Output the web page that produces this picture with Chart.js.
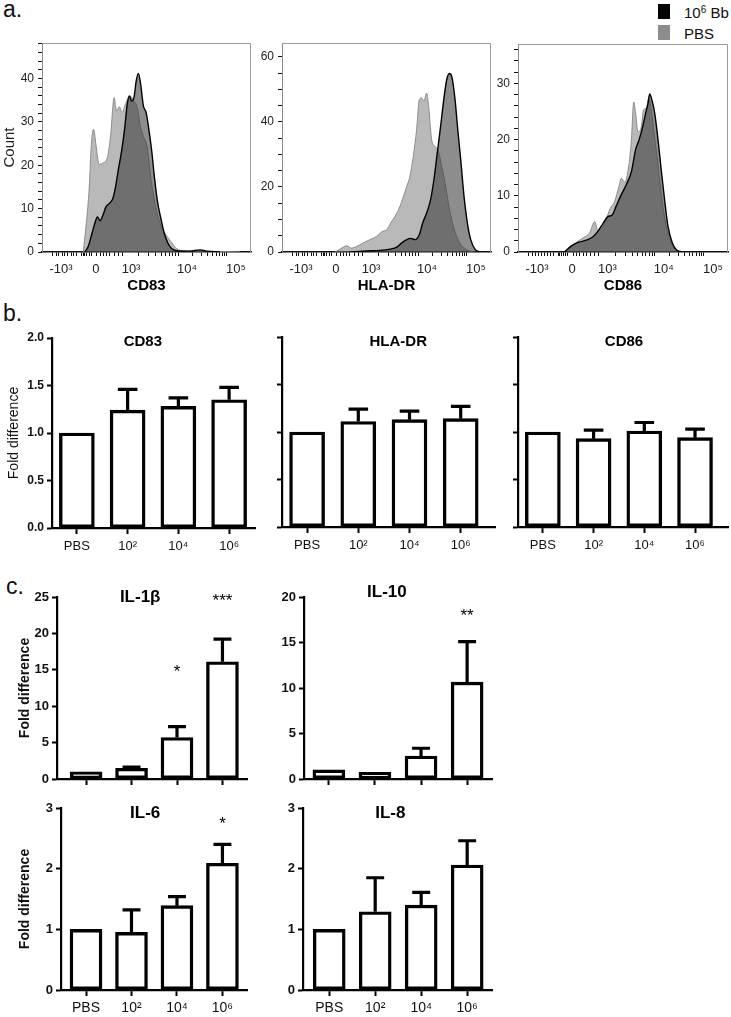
<!DOCTYPE html>
<html>
<head>
<meta charset="utf-8">
<script src="https://cdn.jsdelivr.net/npm/chart.js@4.4.1/dist/chart.umd.min.js"></script>
<style>
  body { margin: 0; background: #fff; width: 731px; height: 1017px; position: relative; overflow: hidden;
         font-family: "Liberation Sans", Arial, Helvetica, sans-serif; color: #111; }
  .panel { position: absolute; }
  .letter { position: absolute; font-size: 23px; line-height: 23px; }
  .sw { position: absolute; left: 658px; width: 12px; height: 15px; }
  .lg { position: absolute; left: 684px; font-size: 15px; line-height: 17px; }
  .lg sup { font-size: 10px; vertical-align: 5px; line-height: 0; }
</style>
</head>
<body>
<div class="letter" style="left:3px;top:-2px">a.</div>
<div class="letter" style="left:3px;top:302px">b.</div>
<div class="letter" style="left:6px;top:575px">c.</div>

<div class="sw" style="top:4px;background:#000"></div>
<div class="lg" style="top:4px">10<sup>6</sup> Bb</div>
<div class="sw" style="top:25px;background:#8c8c8c"></div>
<div class="lg" style="top:25px">PBS</div>

<script>
// ---- flow cytometry histograms: [channel (0-1000 display scale), count] ----
const cd83Pbs = [[198,0],[226,14.8],[236,24.8],[247,28.3],[258,24.8],[273,20.2],[293,20.6],[313,21.8],[329,27.2],
  [345,35.6],[357,32.5],[370,33.5],[383,32.2],[402,34.5],[421,36],[440,34.8],[456,33.3],[472,28.7],[488,26.4],
  [504,24.1],[520,17.2],[536,12.5],[552,8.7],[573,5.6],[597,3.7],[620,2.2],[644,0.8],[676,0.3],[756,0.2],[852,0.1],[947,0]];
const cd83Bb = [[206,0],[222,1.4],[238,4.1],[254,6.8],[265,8.1],[278,7.2],[293,8.7],[306,10.4],[322,11.2],[338,12.2],
  [351,14.8],[367,19.5],[381,23.3],[396,28.7],[408,34.1],[418,36],[429,34.8],[440,35.6],[451,39.5],[461,41.2],
  [472,38.7],[485,33.7],[498,32.2],[510,28.7],[525,23.3],[538,17.2],[552,11.8],[568,7.9],[584,4.5],[601,2.2],
  [620,0.8],[644,0.3],[708,0.2],[756,0.5],[788,0.2],[852,0]];
const hlaPbs = [[254,0],[278,0.9],[309,1.9],[333,1.2],[357,1.7],[389,2.8],[421,3.8],[453,4.8],[477,6.2],[501,6.9],
  [520,8.9],[541,11],[561,13.5],[581,17.1],[597,20.2],[612,23.3],[628,29.4],[644,37.6],[657,46.9],[668,47.4],
  [679,46.4],[692,48.9],[703,43.8],[716,34.6],[732,32.5],[748,31],[764,26.4],[780,21.2],[796,15.1],[812,9.9],
  [833,5.3],[855,2.3],[884,0.7],[916,0]];
const hlaBb = [[325,0],[405,0.3],[469,0.5],[517,0.9],[549,1.5],[573,2.8],[597,3.8],[616,4.2],[636,3.8],[657,5.3],
  [673,8.9],[692,12],[711,16.1],[727,22.3],[743,30.5],[759,38.7],[775,47.4],[788,53],[801,54.9],[813,53.8],
  [828,46.9],[841,37.6],[855,28.4],[871,17.1],[887,8.9],[903,3.8],[923,0.9],[947,0]];
const cd86Pbs = [[222,0],[246,0.7],[278,1.7],[309,2.5],[341,3.4],[365,5.4],[381,3.8],[402,4.3],[421,6],[440,7.8],
  [460,9],[481,11.7],[492,13.1],[508,12.4],[527,15.2],[540,19.9],[551,26.7],[560,24.7],[571,21.4],[587,22.3],
  [598,25.3],[611,25.6],[622,27.3],[635,25.3],[648,21.1],[662,17],[675,12.8],[690,8.1],[709,4],[730,1.6],[754,0.3],[778,0]];
const cd86Bb = [[222,0],[254,1.1],[286,1.7],[325,2.1],[357,2.7],[381,3.7],[405,5.1],[428,6.3],[449,6.6],[468,8.2],
  [492,10.2],[516,12],[540,14.3],[560,18.2],[576,19.9],[592,22],[608,24.7],[619,26.4],[627,28.1],[638,27],
  [651,24.7],[667,19.9],[682,14.6],[698,9.3],[714,4.6],[735,1.6],[757,0.3],[786,0]];
const flowTickPos = [48, 215, 383, 651, 885];
const flowTickLabels = ['-10³', '0', '10³', '10⁴', '10⁵'];

// ---- fold difference bar charts ----
const doseLabels = ['PBS', '10²', '10⁴', '10⁶'];
const cd83Fold = [1.0, 1.24, 1.28, 1.35];
const cd83Err  = [0, 0.22, 0.09, 0.13];
const hlaFold  = [1.0, 1.11, 1.13, 1.14];
const hlaErr   = [0, 0.13, 0.09, 0.13];
const cd86Fold = [1.0, 0.93, 1.01, 0.94];
const cd86Err  = [0, 0.09, 0.09, 0.09];
const il1bFold = [1.0, 1.47, 5.7, 16.1];
const il1bErr  = [0, 0.18, 1.5, 3.1];
const il10Fold = [1.0, 0.74, 2.53, 10.65];
const il10Err  = [0, 0, 0.85, 4.45];
const il6Fold  = [1.0, 0.95, 1.39, 2.09];
const il6Err   = [0, 0.37, 0.15, 0.31];
const il8Fold  = [1.0, 1.29, 1.40, 2.06];
const il8Err   = [0, 0.56, 0.21, 0.40];
const il1bSig  = ['', '', '*', '***'];
const il10Sig  = ['', '', '', '**'];
const il6Sig   = ['', '', '', '*'];

Chart.defaults.font.family = '"Liberation Sans", Arial, Helvetica, sans-serif';
Chart.defaults.color = '#111';
Chart.defaults.animation = false;
Chart.defaults.plugins.legend.display = false;
Chart.defaults.plugins.tooltip.enabled = false;

// light box round the histogram plot area
const boxPlugin = {
  id: 'box',
  afterDraw(chart, args, opts) {
    if (!opts.color) return;
    const a = chart.chartArea, ctx = chart.ctx;
    ctx.save();
    ctx.strokeStyle = opts.color;
    ctx.lineWidth = 1;
    ctx.beginPath();
    ctx.moveTo(a.left, a.top + 0.5);
    ctx.lineTo(a.right - 0.5, a.top + 0.5);
    ctx.lineTo(a.right - 0.5, a.bottom);
    ctx.stroke();
    ctx.restore();
  }
};

// upper SEM whiskers on top of the bars
const errorBarPlugin = {
  id: 'errorBars',
  afterDatasetsDraw(chart, args, opts) {
    if (!opts.values) return;
    const meta = chart.getDatasetMeta(0);
    const y = chart.scales.y;
    const ctx = chart.ctx;
    ctx.save();
    ctx.strokeStyle = '#000';
    ctx.lineWidth = opts.width || 3;
    meta.data.forEach((bar, i) => {
      const err = opts.values[i];
      if (!err) return;
      const v = chart.data.datasets[0].data[i].y;
      const top = y.getPixelForValue(v + err);
      const half = bar.width * 0.28;
      ctx.beginPath();
      ctx.moveTo(bar.x, bar.y);
      ctx.lineTo(bar.x, top);
      ctx.moveTo(bar.x - half, top);
      ctx.lineTo(bar.x + half, top);
      ctx.stroke();
    });
    ctx.restore();
  }
};

// panel titles and significance stars placed in scale units
const notesPlugin = {
  id: 'notes',
  afterDraw(chart, args, opts) {
    if (!opts.items) return;
    const ctx = chart.ctx, xs = chart.scales.x, ys = chart.scales.y;
    opts.items.forEach(it => {
      if (!it.text) return;
      ctx.save();
      ctx.font = it.font;
      ctx.fillStyle = '#000';
      ctx.textAlign = 'center';
      ctx.textBaseline = it.baseline || 'middle';
      ctx.fillText(it.text, xs.getPixelForValue(it.x), ys.getPixelForValue(it.y) + (it.dy || 0));
      ctx.restore();
    });
  }
};
Chart.register(boxPlugin, errorBarPlugin, notesPlugin);

function place(id, area, m) {
  const div = document.createElement('div');
  div.className = 'panel';
  const w = area.r - area.l + m.l + m.r;
  const h = area.b - area.t + m.t + m.b;
  div.style.left = (area.l - m.l) + 'px';
  div.style.top = (area.t - m.t) + 'px';
  const c = document.createElement('canvas');
  c.id = id;
  c.width = w; c.height = h;
  c.style.width = w + 'px'; c.style.height = h + 'px';
  div.appendChild(c);
  document.body.appendChild(div);
  return c;
}

// minor ticks of the biexponential axis (cosmetic only)
const flowMinor = [];
[67, 81, 96, 110, 124, 139, 153, 167, 191, 198, 205, 228, 235, 263, 278, 292, 311, 325, 345, 364].forEach(v => flowMinor.push(v));
for (let k = 2; k <= 9; k++) {
  flowMinor.push(383 + 268 * Math.log10(k));
  flowMinor.push(651 + 234 * Math.log10(k));
}
const flowAxisTicks = flowTickPos.concat(flowMinor).sort((a, b) => a - b);

function flowChart(id, area, m, pbs, bb, yMax, yMajor, yMinor, xTitle, yTitle) {
  const canvas = place(id, area, m);
  const yTicks = [];
  for (let v = 0; v <= yMax; v += yMinor) yTicks.push(v);
  return new Chart(canvas, {
    type: 'line',
    data: {
      datasets: [
        { label: '10⁶ Bb', data: bb, order: 0, borderColor: '#000', borderWidth: 1.4,
          backgroundColor: 'rgba(54,54,54,0.57)', fill: 'origin', pointRadius: 0, cubicInterpolationMode: 'monotone' },
        { label: 'PBS', data: pbs, order: 1, borderColor: '#8c8c8c', borderWidth: 1,
          backgroundColor: 'rgba(115,115,115,0.5)', fill: 'origin', pointRadius: 0, cubicInterpolationMode: 'monotone' }
      ]
    },
    options: {
      responsive: false,
      layout: { padding: { top: m.t, right: m.r, left: 0, bottom: 0 } },
      plugins: { box: { color: '#9a9a9a' } },
      scales: {
        x: {
          type: 'linear', min: 0, max: 1000,
          afterFit: s => { s.height = m.b; s.paddingLeft = 0; s.paddingRight = 0; },
          afterBuildTicks: s => { s.ticks = flowAxisTicks.map(v => ({ value: v })); },
          grid: { drawOnChartArea: false, tickLength: 4, tickColor: '#111', tickWidth: 1 },
          border: { color: '#111', width: 1.5 },
          ticks: { autoSkip: false, maxRotation: 0, labelOffset: 9, padding: 6, font: { size: 13 }, color: '#222',
                   callback: v => { const i = flowTickPos.indexOf(v); return i < 0 ? '' : flowTickLabels[i]; } },
          title: { display: true, text: xTitle, font: { size: 15, weight: 'bold' }, padding: { bottom: 2 }, color: '#000' }
        },
        y: {
          min: 0, max: yMax,
          afterFit: s => { s.width = m.l; s.paddingTop = 0; s.paddingBottom = 0; },
          afterBuildTicks: s => { s.ticks = yTicks.map(v => ({ value: v })); },
          grid: { drawOnChartArea: false, tickLength: 4, tickColor: '#111', tickWidth: 1 },
          border: { color: '#8a8a8a', width: 1 },
          ticks: { autoSkip: false, padding: 4, font: { size: 12 }, color: '#222',
                   callback: v => (v % yMajor === 0 ? String(v) : '') },
          title: { display: !!yTitle, text: yTitle, font: { size: 15 }, padding: { top: 1 }, color: '#222' }
        }
      }
    }
  });
}

function barChart(id, area, m, vals, errs, o) {
  const canvas = place(id, area, m);
  const yTicks = [];
  for (let v = 0; v <= o.yMax + 1e-9; v += o.yStep) yTicks.push(+v.toFixed(2));
  const notes = [{ text: o.title, x: o.titleAt[0], y: o.titleAt[1], font: o.titleFont }];
  (o.sig || []).forEach((s, i) => {
    if (s) notes.push({ text: s, x: i, y: o.sigY[i], font: '17px "Liberation Sans", Arial, sans-serif', baseline: 'alphabetic', dy: 9 });
  });
  return new Chart(canvas, {
    type: 'bar',
    data: {
      datasets: [{
        data: vals.map((v, i) => ({ x: i, y: v })),
        backgroundColor: '#fff', borderColor: '#000', borderWidth: 3.4, borderSkipped: false,
        barThickness: o.barW
      }]
    },
    options: {
      responsive: false,
      layout: { padding: { top: m.t, right: m.r, left: 0, bottom: 0 } },
      plugins: { errorBars: { values: errs, width: 3.2 }, notes: { items: notes } },
      scales: {
        x: {
          type: 'linear', min: o.xMin, max: o.xMax, offset: false,
          afterFit: s => { s.height = m.b; s.paddingLeft = 0; s.paddingRight = 0; },
          afterBuildTicks: s => { s.ticks = doseLabels.map((d, i) => ({ value: i })); },
          grid: { drawOnChartArea: false, offset: false, tickLength: 6, tickColor: '#000', tickWidth: 2 },
          border: { color: '#000', width: 2.2 },
          ticks: { autoSkip: false, maxRotation: 0, padding: o.xPad, font: { size: o.xFont }, color: '#111',
                   callback: v => (o.showX ? doseLabels[v] : '') }
        },
        y: {
          min: 0, max: o.yMax,
          afterFit: s => { s.width = m.l; s.paddingTop = 0; s.paddingBottom = 0; },
          afterBuildTicks: s => { s.ticks = yTicks.map(v => ({ value: v })); },
          grid: { drawOnChartArea: false, tickLength: 5, tickColor: '#000', tickWidth: 2 },
          border: { color: '#000', width: 2.2 },
          ticks: { autoSkip: false, padding: 3, font: { size: o.yFont, weight: 'bold' }, color: '#111',
                   callback: v => (o.showY ? o.fmt(v) : '') },
          title: { display: !!o.yTitle, text: o.yTitle, font: o.yTitleFont, padding: { top: o.yTitlePad }, color: '#111' }
        }
      }
    }
  });
}

// ---- panel a ----
flowChart('h1', { l: 42, t: 43, r: 251, b: 252 }, { l: 42, t: 3, r: 3, b: 45 }, cd83Pbs, cd83Bb, 48.2, 10, 2, 'CD83', 'Count');
flowChart('h2', { l: 282, t: 43, r: 491, b: 252 }, { l: 40, t: 3, r: 3, b: 45 }, hlaPbs, hlaBb, 64.3, 20, 5, 'HLA-DR', '');
flowChart('h3', { l: 518, t: 44, r: 728, b: 252 }, { l: 40, t: 3, r: 2, b: 45 }, cd86Pbs, cd86Bb, 37, 10, 2, 'CD86', '');

// ---- panel b ----
const bCommon = { yMax: 2, yStep: 0.5, barW: 35, showX: true, xFont: 13, xPad: 5, yFont: 12,
  fmt: v => v.toFixed(1), titleFont: 'bold 15px "Liberation Sans", Arial, sans-serif' };
barChart('b1', { l: 52, t: 338, r: 255, b: 528 }, { l: 52, t: 8, r: 4, b: 28 }, cd83Fold, cd83Err,
  Object.assign({}, bCommon, { xMin: -0.49, xMax: 3.51, showY: true, title: 'CD83', titleAt: [1.3, 1.96],
    yTitle: 'Fold difference', yTitleFont: { size: 14 }, yTitlePad: 6 }));
barChart('b2', { l: 282, t: 337, r: 495, b: 527 }, { l: 30, t: 8, r: 4, b: 28 }, hlaFold, hlaErr,
  Object.assign({}, bCommon, { xMin: -0.49, xMax: 3.67, showY: false, title: 'HLA-DR', titleAt: [1.78, 1.95] }));
barChart('b3', { l: 518, t: 337, r: 728, b: 527 }, { l: 30, t: 8, r: 2, b: 28 }, cd86Fold, cd86Err,
  Object.assign({}, bCommon, { xMin: -0.49, xMax: 3.65, showY: false, title: 'CD86', titleAt: [1.6, 1.95] }));

// ---- panel c ----
const cCommon = { barW: 32, showY: true, xFont: 14, xPad: 4, yFont: 13, fmt: v => String(v),
  titleFont: 'bold 17px "Liberation Sans", Arial, sans-serif' };
const cTitle = { yTitle: 'Fold difference', yTitleFont: { size: 14, weight: 'bold' }, yTitlePad: 16.6 };
barChart('c1', { l: 57, t: 597, r: 247, b: 779 }, { l: 57, t: 14, r: 4, b: 10 }, il1bFold, il1bErr,
  Object.assign({}, cCommon, cTitle, { yMax: 25, yStep: 5, xMin: -0.64, xMax: 3.54, showX: false,
    title: 'IL-1β', titleAt: [1.19, 25.0], sig: il1bSig, sigY: [0, 0, 15.3, 25.0] }));
barChart('c2', { l: 304, t: 597, r: 492, b: 779 }, { l: 30, t: 14, r: 4, b: 10 }, il10Fold, il10Err,
  Object.assign({}, cCommon, { yMax: 20, yStep: 5, xMin: -0.54, xMax: 3.54, showX: false,
    title: 'IL-10', titleAt: [1.26, 20.5], sig: il10Sig, sigY: [0, 0, 0, 18.4] }));
barChart('c3', { l: 61, t: 808, r: 247, b: 990 }, { l: 61, t: 8, r: 4, b: 27 }, il6Fold, il6Err,
  Object.assign({}, cCommon, cTitle, { yMax: 3, yStep: 1, xMin: -0.55, xMax: 3.54, showX: true,
    title: 'IL-6', titleAt: [1.3, 2.92], sig: il6Sig, sigY: [0, 0, 0, 2.8] }));
barChart('c4', { l: 303, t: 808, r: 492, b: 990 }, { l: 30, t: 8, r: 4, b: 27 }, il8Fold, il8Err,
  Object.assign({}, cCommon, { yMax: 3, yStep: 1, xMin: -0.57, xMax: 3.54, showX: true,
    title: 'IL-8', titleAt: [1.33, 2.92] }));
</script>
</body>
</html>
